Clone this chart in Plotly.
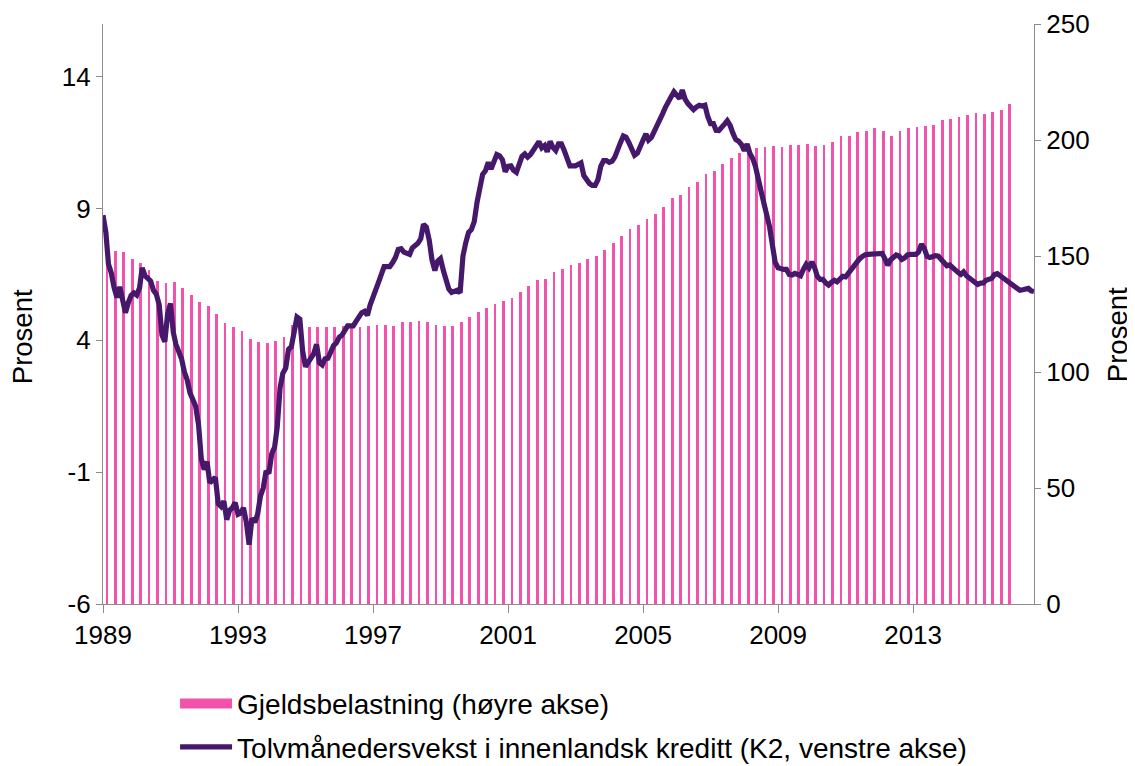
import pandas as pd
import plotly.graph_objects as go

# Quarterly debt burden (right axis), 1989Q1 - 2015Q4
debt_burden = [
    154.0, 152.3, 151.6, 148.7, 147.0, 144.0, 139.2, 138.4, 138.7, 136.1,
    133.2, 130.0, 128.4, 125.0, 121.0, 119.5, 117.7, 114.1, 112.9, 112.4,
    113.4, 115.2, 120.3, 119.5, 119.3, 119.3, 119.3, 119.5, 119.8, 119.8,
    119.5, 119.8, 120.1, 120.4, 119.8, 121.4, 121.4, 121.8, 121.6, 120.4,
    119.8, 119.8, 121.4, 123.9, 125.7, 127.7, 129.2, 130.7, 132.0, 134.6,
    136.9, 139.8, 140.2, 143.1, 144.3, 146.3, 146.8, 148.8, 150.1, 152.6,
    155.6, 158.5, 161.8, 163.2, 165.8, 168.1, 171.0, 175.0, 176.4, 179.9,
    182.0, 185.3, 186.6, 189.5, 192.2, 194.5, 195.7, 196.4, 197.1, 197.3,
    197.1, 197.8, 197.8, 198.3, 197.4, 198.0, 199.1, 201.7, 201.9, 203.3,
    204.0, 205.3, 203.7, 201.7, 203.7, 205.0, 205.5, 206.2, 206.6, 208.5,
    208.9, 209.8, 210.6, 211.8, 211.1, 211.9, 212.9, 215.4,
]
quarter_dates = pd.date_range("1989-02-01", periods=len(debt_burden), freq="3MS") + pd.Timedelta(days=12)

# Monthly twelve-month credit growth K2 (left axis), Jan 1989 - Aug 2016
credit_growth = [
    8.75, 8.1, 6.9, 6.55, 6.0, 5.62, 6.03, 5.6, 5.05, 5.42,
    5.7, 5.8, 5.72, 6.0, 6.75, 6.45, 6.35, 6.25, 5.9, 5.75,
    5.35, 4.2, 3.95, 5.0, 5.4, 4.3, 3.85, 3.6, 3.3, 2.8,
    2.5, 2.0, 1.7, 1.5, 0.8, -0.5, -0.9, -0.6, -1.4, -1.3,
    -1.2, -2.2, -2.3, -2.1, -2.8, -2.45, -2.35, -2.15, -2.6, -2.55,
    -2.35, -2.9, -3.75, -2.75, -2.9, -2.6, -1.9, -1.6, -0.95, -1.05,
    -0.3, -0.05, 0.7, 2.2, 2.75, 2.95, 3.65, 3.76, 4.45, 4.88,
    4.8, 3.6, 3.0, 3.2, 3.4, 3.5, 3.85, 3.15, 3.07, 3.3,
    3.32, 3.55, 3.8, 3.9, 4.12, 4.2, 4.38, 4.55, 4.55, 4.55,
    4.72, 4.88, 5.05, 5.1, 4.95, 5.35, 5.7, 6.0, 6.2, 6.5,
    6.8, 6.8, 6.8, 6.95, 7.15, 7.45, 7.48, 7.35, 7.28, 7.26,
    7.5, 7.6, 7.68, 7.85, 8.4, 8.3, 7.8, 7.05, 6.65, 7.0,
    7.1, 6.65, 6.3, 5.95, 5.82, 5.86, 5.9, 5.8, 7.2, 7.7,
    8.1, 8.2, 8.5, 9.25, 9.9, 10.3, 10.43, 10.75, 10.5, 10.75,
    11.05, 11.0, 10.85, 10.4, 10.6, 10.62, 10.45, 10.37, 10.7, 10.98,
    11.07, 10.95, 11.05, 11.2, 11.43, 11.54, 11.3, 11.39, 11.15, 11.55,
    11.32, 11.2, 11.45, 11.45, 11.2, 10.95, 10.62, 10.62, 10.62, 10.68,
    10.73, 10.25, 10.07, 9.95, 9.88, 9.88, 10.1, 10.6, 10.82, 10.82,
    10.75, 10.8, 10.95, 11.3, 11.5, 11.75, 11.7, 11.5, 11.2, 11.02,
    11.1, 11.4, 11.6, 11.83, 11.6, 11.7, 11.9, 12.1, 12.3, 12.6,
    12.85, 13.0, 13.24, 13.43, 13.3, 13.17, 13.5, 13.15, 12.98, 12.88,
    12.75, 12.85, 12.92, 12.89, 12.92, 12.5, 12.22, 12.22, 11.97, 11.96,
    12.05, 12.2, 12.33, 12.15, 11.85, 11.62, 11.55, 11.43, 11.2, 11.45,
    11.1, 10.9, 10.6, 10.2, 9.65, 9.2, 8.75, 8.3, 7.6, 6.95,
    6.75, 6.69, 6.69, 6.69, 6.5, 6.48, 6.54, 6.5, 6.45, 6.69,
    6.88, 6.75, 6.98, 6.75, 6.43, 6.31, 6.31, 6.18, 6.1, 6.2,
    6.28, 6.22, 6.3, 6.43, 6.41, 6.55, 6.75, 6.88, 6.98, 7.09,
    7.18, 7.25, 7.26, 7.26, 7.26, 7.26, 7.26, 7.3, 7.1, 6.85,
    7.05, 7.15, 7.24, 7.2, 7.07, 7.13, 7.24, 7.26, 7.26, 7.26,
    7.35, 7.65, 7.5, 7.19, 7.14, 7.2, 7.21, 7.19, 7.08, 6.96,
    6.83, 6.86, 6.76, 6.63, 6.58, 6.5, 6.6, 6.45, 6.35, 6.28,
    6.22, 6.12, 6.17, 6.18, 6.28, 6.31, 6.35, 6.5, 6.53, 6.45,
    6.37, 6.31, 6.2, 6.12, 6.07, 6.0, 5.9, 5.92, 5.96, 5.97,
    5.88, 5.85,
]
month_dates = pd.date_range("1989-01-01", periods=len(credit_growth), freq="MS")

tick_years = [1989, 1993, 1997, 2001, 2005, 2009, 2013]
left_ticks = [-6, -1, 4, 9, 14]
right_ticks = [0, 50, 100, 150, 200, 250]

bar_name = "Gjeldsbelastning (høyre akse)"
line_name = "Tolvmånedersvekst i innenlandsk kreditt (K2, venstre akse)"

PINK = "#F252AB"
PURPLE = "#46186B"
AXIS = "#8C8C8C"
FONT = "Liberation Sans, Arial, sans-serif"

fig = go.Figure()
fig.add_trace(go.Bar(
    x=quarter_dates, y=debt_burden, name=bar_name, yaxis="y",
    marker=dict(color=PINK, line=dict(width=0)),
    width=30 * 86400000, showlegend=False,
))
# legend proxy for the bars (wide pink swatch as in the reference)
fig.add_trace(go.Scatter(
    x=[None], y=[None], name=bar_name, yaxis="y", mode="lines",
    line=dict(color=PINK, width=18), legendgroup="a",
))
fig.add_trace(go.Scatter(
    x=month_dates, y=credit_growth, name=line_name, yaxis="y2",
    mode="lines", line=dict(color=PURPLE, width=5.2), legendgroup="b",
))

# the page body adds an 8px margin, so the figure is sized 8px smaller
fig.update_layout(
    width=1127, height=758,
    margin=dict(l=95, r=101, t=16, b=162, autoexpand=False),
    paper_bgcolor="white", plot_bgcolor="white",
    font=dict(family=FONT, size=26, color="black"),
    showlegend=True,
    legend=dict(
        orientation="v", x=0.0774, y=-0.129, xanchor="left", yanchor="top",
        font=dict(size=28), traceorder="grouped", tracegroupgap=4,
        itemwidth=52, bgcolor="rgba(0,0,0,0)",
    ),
    xaxis=dict(
        type="date", range=[month_dates[0], month_dates[-1]],
        tickvals=[pd.Timestamp(f"{y}-01-01") for y in tick_years],
        ticktext=[str(y) for y in tick_years],
        showline=True, linecolor=AXIS, linewidth=1.3,
        ticks="outside", ticklen=8, tickcolor=AXIS, tickwidth=1.3,
        showgrid=False, zeroline=False, tickfont=dict(size=26),
    ),
    yaxis=dict(
        side="right", range=[0, 250], tickvals=right_ticks,
        ticktext=[str(v) for v in right_ticks],
        showline=True, linecolor=AXIS, linewidth=1.3,
        ticks="outside", ticklen=6, tickcolor=AXIS, tickwidth=1.3,
        showgrid=False, zeroline=False, tickfont=dict(size=26),
    ),
    yaxis2=dict(
        side="left", overlaying="y", range=[-6, 16], tickvals=left_ticks,
        ticktext=[str(v) for v in left_ticks],
        showline=True, linecolor=AXIS, linewidth=1.3,
        ticks="outside", ticklen=6, tickcolor=AXIS, tickwidth=1.3,
        showgrid=False, zeroline=False, tickfont=dict(size=26),
    ),
    bargap=0,
    annotations=[
        dict(text="Prosent", xref="paper", yref="paper", x=-0.087, y=0.46,
             showarrow=False, textangle=-90, font=dict(size=27.5),
             xanchor="center", yanchor="middle"),
        dict(text="Prosent", xref="paper", yref="paper", x=1.089, y=0.465,
             showarrow=False, textangle=-90, font=dict(size=27.5),
             xanchor="center", yanchor="middle"),
    ],
)

fig.write_html("out.html")
